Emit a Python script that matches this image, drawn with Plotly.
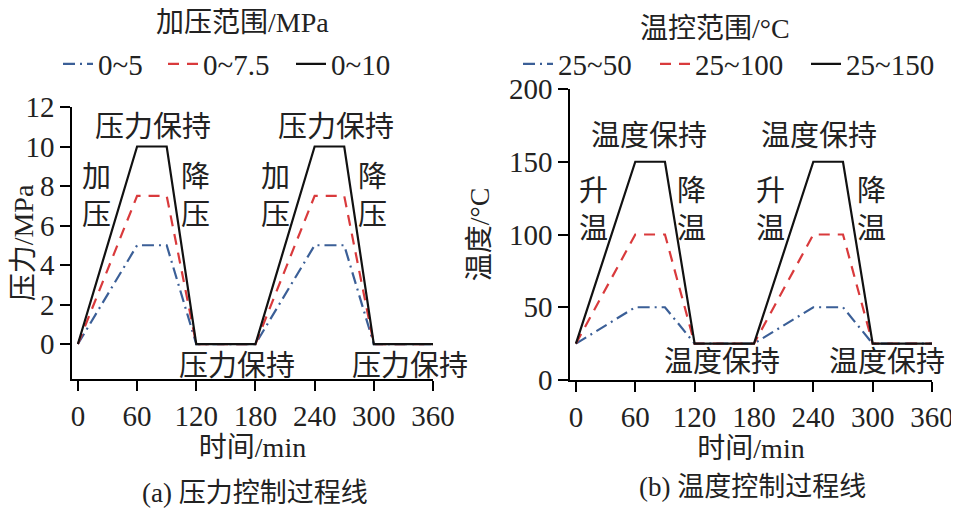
import plotly.graph_objects as go

# ---- data ----
time_min = [0, 60, 90, 120, 180, 240, 270, 300, 360]
p_0_5 = [0, 5, 5, 0, 0, 5, 5, 0, 0]
p_0_75 = [0, 7.5, 7.5, 0, 0, 7.5, 7.5, 0, 0]
p_0_10 = [0, 10, 10, 0, 0, 10, 10, 0, 0]
t_25_50 = [25, 50, 50, 25, 25, 50, 50, 25, 25]
t_25_100 = [25, 100, 100, 25, 25, 100, 100, 25, 25]
t_25_150 = [25, 150, 150, 25, 25, 150, 150, 25, 25]
x_ticks = [0, 60, 120, 180, 240, 300, 360]
p_ticks = [0, 2, 4, 6, 8, 10, 12]
t_ticks = [0, 50, 100, 150, 200]
p_names = ["0~5", "0~7.5", "0~10"]
t_names = ["25~50", "25~100", "25~150"]

BLUE = "#3b5f97"
RED = "#d93a3c"
BLACK = "#111111"
FONT = "Liberation Serif, Noto Sans CJK SC, serif"
FS = 29
CJK = 29

# page body has an 8px margin: figure is drawn at (8, 8)
OFF = 8
W, H = 959 - OFF, 513 - OFF
def px(X):
    return (X - OFF) / W
def py(Y):
    return 1 - (Y - OFF) / H

fig = go.Figure()

styles = [
    (BLUE, "12px,5px,2px,5px"),
    (RED, "11px,8px"),
    (BLACK, "solid"),
]
# text start (page px) of each legend entry
left_text_x = [100, 205, 333]
right_text_x = [560, 697, 848]

legends = {}
k = 0
for names, series, xr, yr, tx in [
    (p_names, [p_0_5, p_0_75, p_0_10], "x", "y", left_text_x),
    (t_names, [t_25_50, t_25_100, t_25_150], "x2", "y2", right_text_x),
]:
    for name, ys, (c, d), t in zip(names, series, styles, tx):
        k += 1
        lg = "legend" if k == 1 else f"legend{k}"
        fig.add_trace(go.Scatter(x=time_min, y=ys, mode="lines", name=name,
                                 showlegend=True,
                                 line=dict(color=c, dash=d, width=2.2),
                                 xaxis=xr, yaxis=yr, legend=lg))
        legends[lg] = dict(orientation="h", x=px(t - 42), y=py(64), xanchor="left",
                           yanchor="middle", font=dict(size=29),
                           bgcolor="rgba(0,0,0,0)", itemwidth=30)

axis_common = dict(showline=True, linecolor="black", linewidth=1.5, ticks="outside",
                   ticklen=10, tickwidth=1.5, tickcolor="black", showgrid=False,
                   zeroline=False, automargin=False,
                   tickfont=dict(family=FONT, size=FS, color="#222"))

fig.update_layout(
    width=W, height=H,
    showlegend=True,
    margin=dict(l=0, r=0, t=0, b=0, autoexpand=False),
    paper_bgcolor="white", plot_bgcolor="white",
    font=dict(family=FONT, size=FS, color="#222"),
    xaxis=dict(domain=[px(72), px(433)], range=[-6, 360], tickvals=x_ticks,
               title=dict(text="时间/min", standoff=6, font=dict(size=28)), anchor="y", **axis_common),
    yaxis=dict(domain=[py(379), py(107)], range=[-1.77, 12], tickvals=p_ticks,
               title=dict(text="压力/MPa", standoff=3, font=dict(size=28)), anchor="x", **axis_common),
    xaxis2=dict(domain=[px(570), px(932)], range=[-6, 360], tickvals=x_ticks,
                title=dict(text="时间/min", standoff=3, font=dict(size=28)), anchor="y2", **axis_common),
    yaxis2=dict(domain=[py(380), py(89)], range=[0, 200], tickvals=t_ticks,
                title=dict(text="温度/°C", standoff=11, font=dict(size=28)), anchor="x2", **axis_common),
    **legends,
)

ann = []
def a(x, y, text, xref, yref, size=CJK):
    ann.append(dict(x=x, y=y, text=text, xref=xref, yref=yref, showarrow=False,
                    xanchor="center", yanchor="middle",
                    font=dict(family=FONT, size=size, color="#222"), align="center"))

# legend titles
a(px(242), py(22), "加压范围/MPa", "paper", "paper", 28)
a(px(715), py(28), "温控范围/°C", "paper", "paper", 28)
# left panel annotations
a(76, 11.0, "压力保持", "x", "y")
a(262, 11.0, "压力保持", "x", "y")
a(18.6, 7.5, "加<br>压", "x", "y")
a(119, 7.5, "降<br>压", "x", "y")
a(200, 7.5, "加<br>压", "x", "y")
a(299, 7.5, "降<br>压", "x", "y")
a(161, -1.1, "压力保持", "x", "y")
a(337, -1.1, "压力保持", "x", "y")
# right panel annotations
a(74, 168, "温度保持", "x2", "y2")
a(246, 168, "温度保持", "x2", "y2")
a(17.6, 117, "升<br>温", "x2", "y2")
a(117, 117, "降<br>温", "x2", "y2")
a(196.7, 117, "升<br>温", "x2", "y2")
a(298.7, 117, "降<br>温", "x2", "y2")
a(148, 12.4, "温度保持", "x2", "y2")
a(314, 12.4, "温度保持", "x2", "y2")
# captions
a(px(255), py(493), "(a) 压力控制过程线", "paper", "paper", 27)
a(px(752), py(487), "(b) 温度控制过程线", "paper", "paper", 27)
fig.update_layout(annotations=ann)

fig.write_html("out.html")
